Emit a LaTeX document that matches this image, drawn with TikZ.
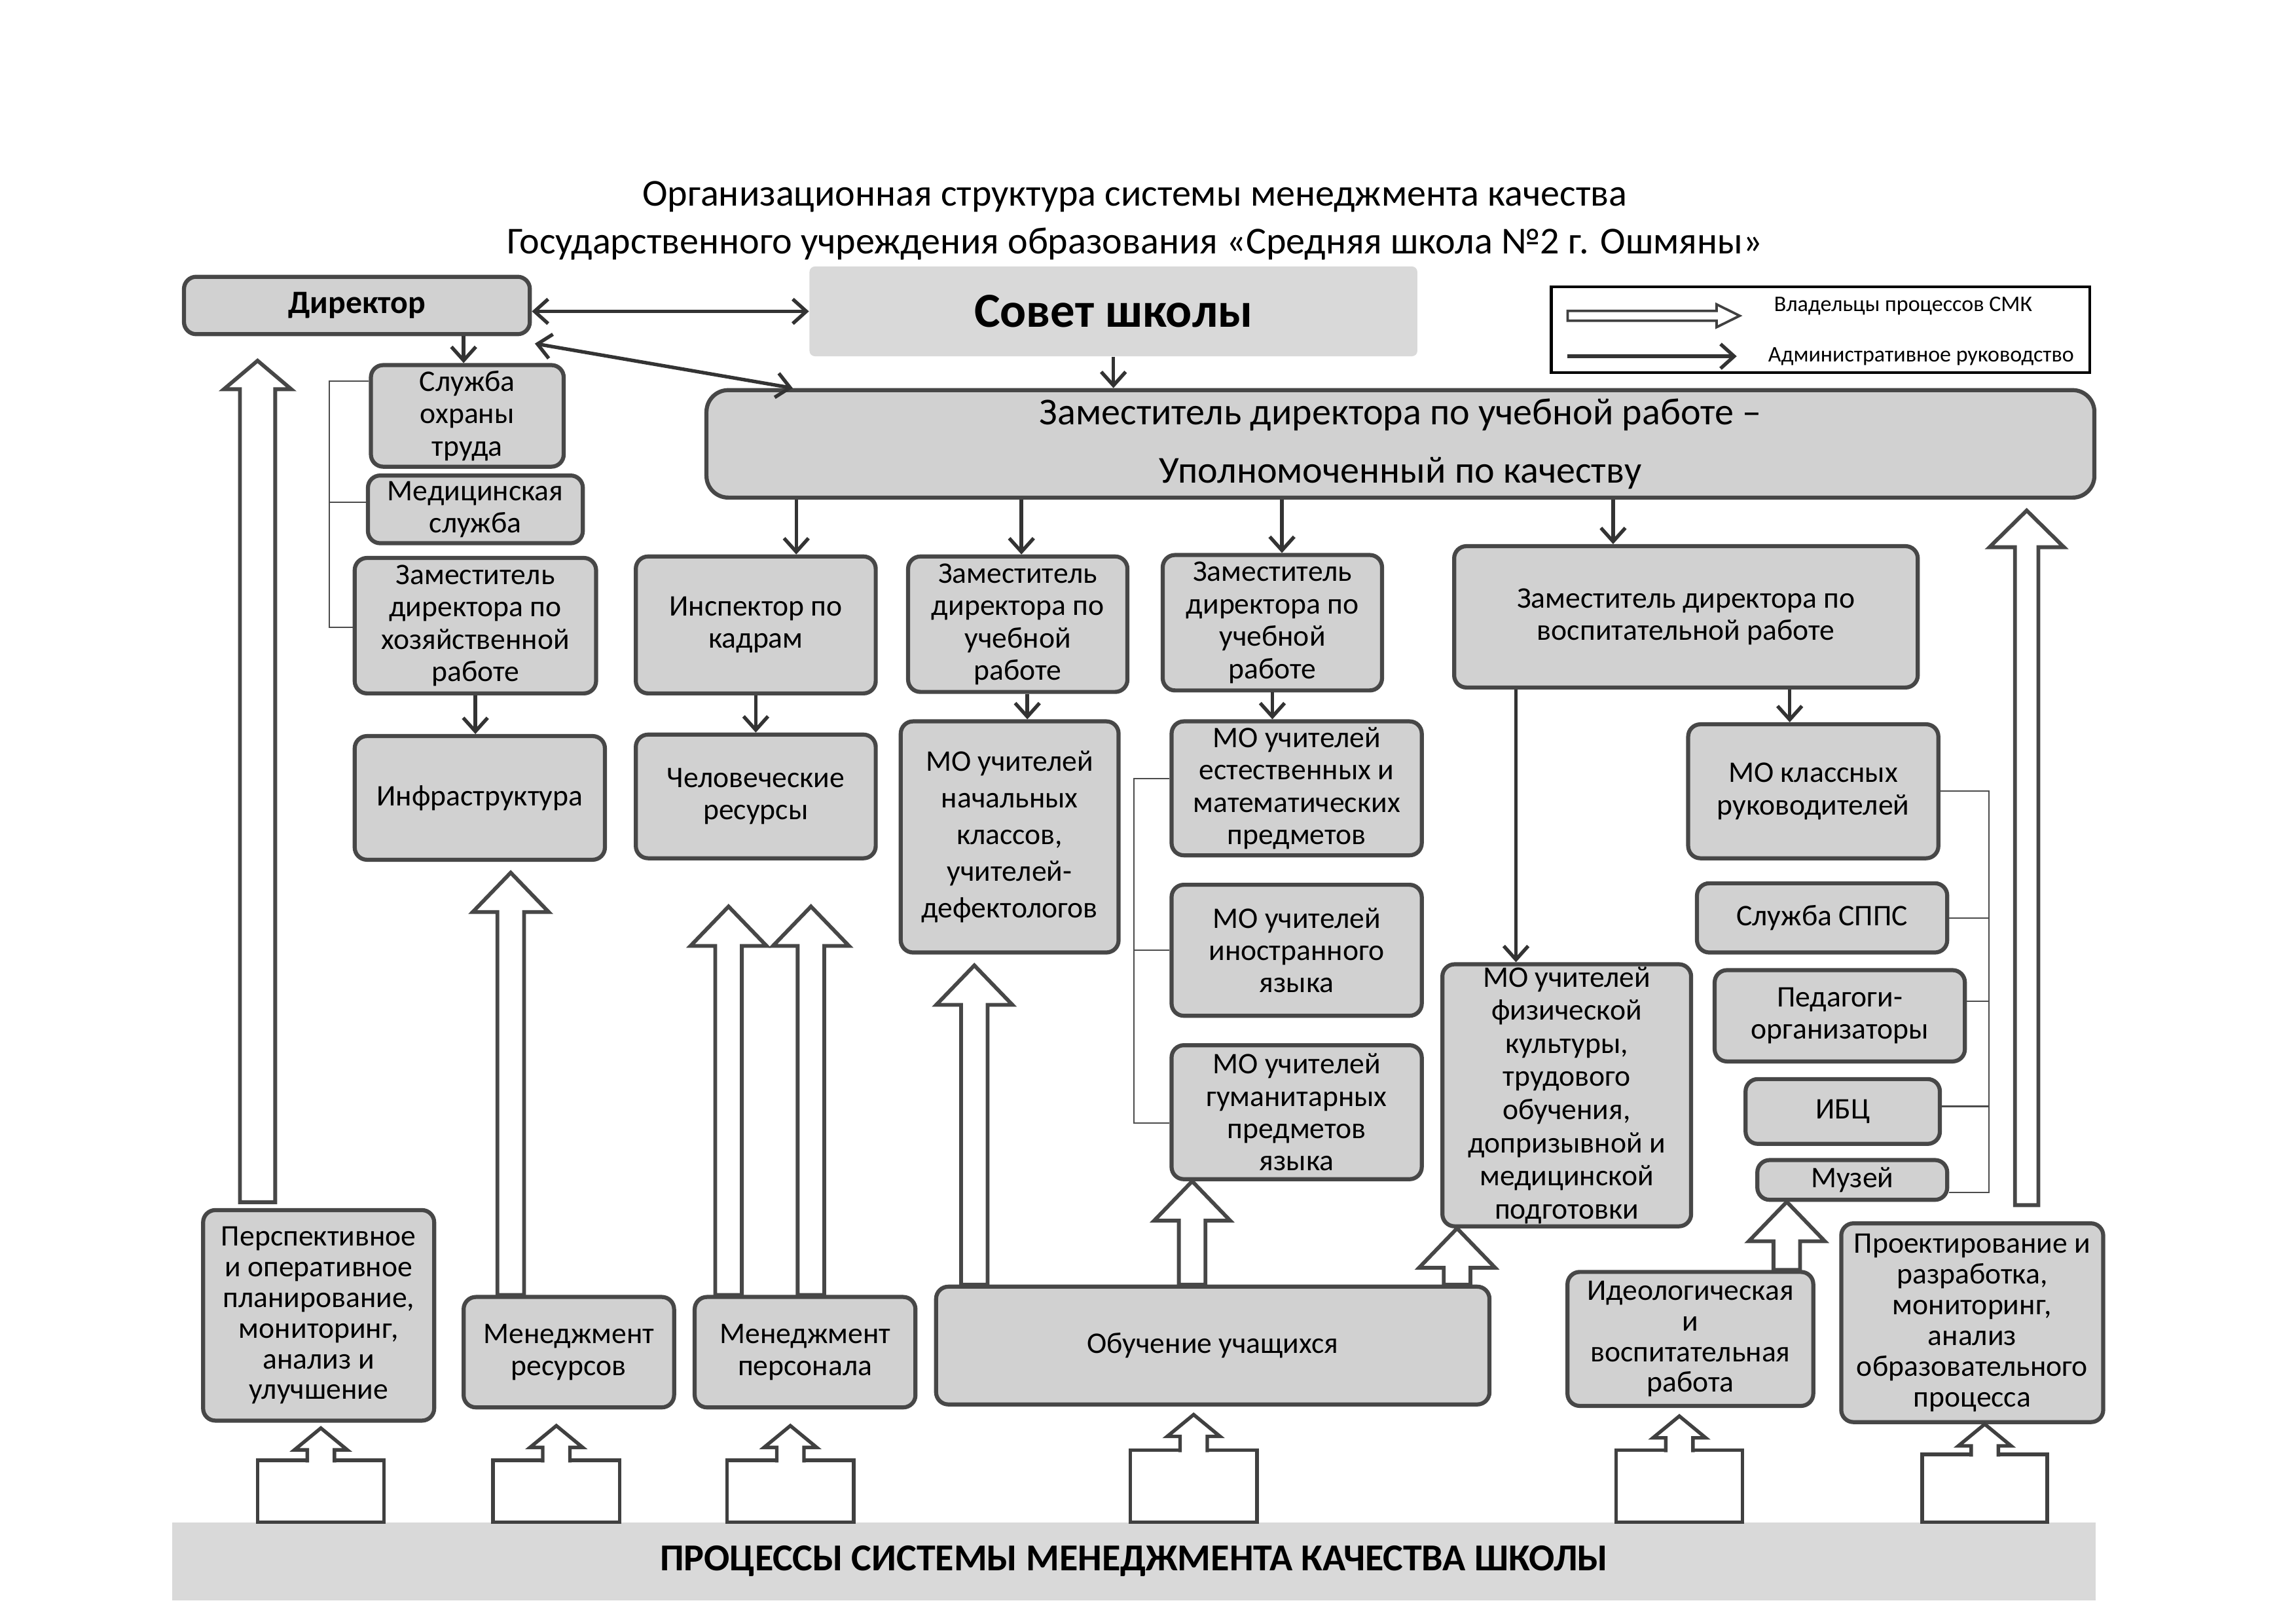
\documentclass[tikz,border=0pt]{standalone}
\usepackage{fontspec}
\setmainfont{Carlito}
\usetikzlibrary{positioning, arrows.meta, calc}

\newcommand{\arshaft}{4.9pt}
\newcommand{\arheadw}{14pt}
\newcommand{\arheadl}{14.5pt}

\begin{document}
\begin{tikzpicture}[
          x=0.19038mm, y=-0.19038mm,
          boxat/.style args = {#1/#2/#3/#4}{at={(#1/2+#3/2,#2/2+#4/2)}, minimum width={(#3-#1)*0.19038mm}, minimum height={(#4-#2)*0.19038mm}},
          box/.style = {draw=black!72, line width=1.5pt, fill=black!18, rounded corners=4.5pt, inner sep=0pt, align=center, font=\fontsize{11}{11.9}\selectfont},
          council/.style = {fill=black!15, rounded corners=2pt, inner sep=0pt, font=\bfseries\fontsize{18}{22}\selectfont},
          title/.style = {align=center, font=\fontsize{14}{17.5}\selectfont},
          legendbox/.style = {draw=black, line width=1pt, fill=white, inner sep=0pt},
          legtext/.style = {anchor=west, inner sep=0pt, font=\fontsize{8.2}{10}\selectfont},
          callbox/.style = {draw=black!75, line width=1.3pt, fill=white, inner sep=0pt},
          banner/.style = {fill=black!15, inner sep=0pt, font=\bfseries\fontsize{14}{17}\selectfont},
          bracket/.style = {draw=black!70, line width=0.5pt},
          admin/.style = {draw=black!80, line width=1.3pt, -{Straight Barb[length=5pt, width=9pt]}},
          admin2/.style = {admin, {Straight Barb[length=5pt, width=9pt]}-{Straight Barb[length=5pt, width=9pt]}},
          dims/.code args = {#1/#2/#3}{\def\arshaft{#1}\def\arheadw{#2}\def\arheadl{#3}},
          owner/.style = {draw=black!72, line width=1.4pt, fill=white,
            to path={let \p1=(\tikztostart), \p2=(\tikztotarget) in
              (\x1-\arshaft,\y1) -- (\x1-\arshaft,\y2-\arheadl) -- (\x1-\arheadw,\y2-\arheadl) -- (\x1,\y2)
              -- (\x1+\arheadw,\y2-\arheadl) -- (\x1+\arshaft,\y2-\arheadl) -- (\x1+\arshaft,\y1) -- cycle}},
          callarrow/.style = {draw=black!75, line width=1.3pt, fill=white,
            to path={let \p1=(\tikztostart), \p2=(\tikztotarget) in
              (\x1-5pt,\y1-1.4pt) -- (\x1-5pt,\y2-8pt) -- (\x1-9.7pt,\y2-8pt) -- (\x1,\y2)
              -- (\x1+9.7pt,\y2-8pt) -- (\x1+5pt,\y2-8pt) -- (\x1+5pt,\y1-1.4pt)}},
          ownerright/.style = {draw=black!75, line width=0.9pt, fill=white,
            to path={let \p1=(\tikztostart), \p2=(\tikztotarget) in
              (\x1,\y1+1.8pt) -- (\x2-8.5pt,\y1+1.8pt) -- (\x2-8.5pt,\y1+4.2pt) -- (\x2,\y1)
              -- (\x2-8.5pt,\y1-4.2pt) -- (\x2-8.5pt,\y1-1.8pt) -- (\x1,\y1-1.8pt) -- cycle}}
         ]

        \useasboundingbox (0,0) rectangle (1560,1103);

        % Заголовок
        \node[title] (title) at (771,150) {Организационная структура системы менеджмента качества\\Государственного учреждения образования «Средняя школа №2 г. Ошмяны»};

        % Руководство
        \node[box, font=\bfseries\fontsize{12}{14}\selectfont, boxat=125/188/360/227] (dir) {Директор};
        \node[council, boxat=550/181/963/242] (sovet) {Совет школы};
        \node[box, rounded corners=8pt, font=\fontsize{14}{21.6}\selectfont, boxat=480/265/1423/338] (upol) {Заместитель директора по учебной работе –\\Уполномоченный по качеству};

        % Легенда
        \node[legendbox, boxat=1054/195/1420/253] (legend) {};
        \node[legtext] (legOwner) at (1205,208) {Владельцы процессов СМК};
        \node[legtext] (legAdmin) at (1201,242) {Административное руководство};
        \draw[ownerright] ($(legOwner.west -| legend.west)+(12,6.5)$) to ($(legOwner.west)+(-23,6.5)$);
        \draw[admin] ($(legAdmin.west -| legend.west)+(12,0)$) -- ($(legAdmin.west)+(-21,0)$);

        % Левая колонка
        \node[box, boxat=252/248/383/317] (ohrana) {Служба\\охраны\\труда};
        \node[box, boxat=250/323/396/369] (med) {Медицинская\\служба};
        \node[box, boxat=241/379/405/471] (zamhoz) {Заместитель\\директора по\\хозяйственной\\работе};
        \node[box, boxat=241/500/411/584] (infra) {Инфраструктура};

        % Заместители и МО
        \node[box, boxat=432/378/595/471] (insp) {Инспектор по\\кадрам};
        \node[box, boxat=432/499/595/583] (chel) {Человеческие\\ресурсы};
        \node[box, boxat=617/378/766/470] (zamuch1) {Заместитель\\директора по\\учебной\\работе};
        \node[box, font=\fontsize{11}{13.5}\selectfont, boxat=612/490/760/647] (moNach) {МО учителей\\начальных\\классов,\\учителей-\\дефектологов};
        \node[box, boxat=790/377/939/469] (zamuch2) {Заместитель\\директора по\\учебной\\работе};
        \node[box, boxat=796/490/966/581] (moEst) {МО учителей\\естественных и\\математических\\предметов};
        \node[box, boxat=796/601/966/690] (moIn) {МО учителей\\иностранного\\языка};
        \node[box, boxat=796/710/966/801] (moGum) {МО учителей\\гуманитарных\\предметов\\языка};
        \node[box, boxat=988/371/1303/467] (zamvosp) {Заместитель директора по\\воспитательной работе};
        \node[box, font=\fontsize{11}{12.2}\selectfont, boxat=980/655/1149/833] (moFiz) {МО учителей\\физической\\культуры,\\трудового\\обучения,\\допризывной и\\медицинской\\подготовки};
        \node[box, boxat=1147/492/1317/583] (moKl) {МО классных\\руководителей};
        \node[box, boxat=1153/600/1323/647] (spps) {Служба СППС};
        \node[box, boxat=1165/659/1335/721] (pedorg) {Педагоги-\\организаторы};
        \node[box, boxat=1186/733/1318/777] (ibc) {ИБЦ};
        \node[box, boxat=1194/788/1323/815] (muzei) {Музей};

        % Процессы
        \node[box, font=\fontsize{11}{11.3}\selectfont, boxat=138/822/295/965] (persp) {Перспективное\\и оперативное\\планирование,\\мониторинг,\\анализ и\\улучшение};
        \node[box, boxat=315/881/458/956] (menRes) {Менеджмент\\ресурсов};
        \node[box, boxat=472/881/622/956] (menPers) {Менеджмент\\персонала};
        \node[box, boxat=636/874/1012/954] (obuch) {Обучение учащихся};
        \node[box, font=\fontsize{11}{11.3}\selectfont, boxat=1065/864/1232/955] (ideolog) {Идеологическая\\и\\воспитательная\\работа};
        \node[box, font=\fontsize{11}{11.3}\selectfont, boxat=1251/831/1429/966] (proekt) {Проектирование и\\разработка,\\мониторинг,\\анализ\\образовательного\\процесса};

        \node[banner, boxat=117/1034/1424/1087] (procs) {ПРОЦЕССЫ СИСТЕМЫ МЕНЕДЖМЕНТА КАЧЕСТВА ШКОЛЫ};

        \node[callbox, boxat=175/992/261/1034] (c1) {};
        \node[callbox, boxat=335/992/421/1034] (c2) {};
        \node[callbox, boxat=494/992/580/1034] (c3) {};
        \node[callbox, boxat=768/985/854/1034] (c4) {};
        \node[callbox, boxat=1098/985/1184/1034] (c5) {};
        \node[callbox, boxat=1306/988/1391/1034] (c6) {};

        % Скобки
        \draw[bracket] ($(ohrana.west)+(0,-23.5)$) -| ($(zamhoz.west)+(-16,1)$) -- ($(zamhoz.west)+(0,1)$);
        \draw[bracket] ($(med.west)+(0,-5)$) -- ++(-25,0);
        \draw[bracket] ($(moEst.west)+(0,-6.5)$) -| ($(moGum.west)+(-24,7.5)$) -- ($(moGum.west)+(0,7.5)$);
        \draw[bracket] (moIn.west) -- ++(-24,0);
        \draw[bracket] (moKl.east) -| ($(muzei.east)+(27,8.5)$) -- ($(muzei.east)+(0,8.5)$);
        \draw[bracket] (spps.east) -- ++(27,0);
        \draw[bracket] ($(pedorg.east)+(0,-10)$) -- ++(15,0);
        \draw[bracket] ($(ibc.east)+(0,-3.5)$) -- ++(32,0);

        % Административное руководство
        \draw[admin2] (dir.east |- sovet.west) -- (sovet.west);
        \draw[admin2] ($(dir.south east)+(2,5)$) -- ($(upol.north west)+(60,0)$);
        \draw[admin] (dir.south -| 315,0) -- (ohrana.north -| 315,0);
        \draw[admin] (sovet.south) -- (sovet.south |- upol.north);
        \draw[admin] (upol.south -| 541,0) -- (insp.north -| 541,0);
        \draw[admin] (upol.south -| 694,0) -- (zamuch1.north -| 694,0);
        \draw[admin] (upol.south -| 871,0) -- (zamuch2.north -| 871,0);
        \draw[admin] (upol.south -| 1096,0) -- (zamvosp.north -| 1096,0);
        \draw[admin] (zamhoz.south) -- (zamhoz.south |- infra.north);
        \draw[admin] (insp.south) -- (chel.north);
        \draw[admin] (zamuch1.south -| 698,0) -- (moNach.north -| 698,0);
        \draw[admin] (zamuch2.south) -- (zamuch2.south |- moEst.north);
        \draw[admin] (zamvosp.south -| 1030,0) -- (moFiz.north -| 1030,0);
        \draw[admin] (zamvosp.south -| 1216,0) -- (moKl.north -| 1216,0);

        % Владельцы процессов
        \draw[owner, dims=6.5pt/12.4pt/10.5pt] ($(persp.north -| 175,0)+(0,-4)$) to ([yshift=-9pt]dir.south);
        \draw[owner] (menRes.north -| 347,0) to ([yshift=-4pt]infra.south);
        \draw[owner] (menPers.north -| 495,0) to ([yshift=-17pt]chel.south);
        \draw[owner] (menPers.north -| 551,0) to ([yshift=-17pt]chel.south);
        \draw[owner] (obuch.north -| 662,0) to ([yshift=-4pt]moNach.south);
        \draw[owner] (obuch.north -| 810,0) to (moGum.south);
        \draw[owner] (obuch.north -| 990,0) to (moFiz.south);
        \draw[owner] (ideolog.north -| 1214,0) to (muzei.south);
        \draw[owner, dims=4.3pt/13.7pt/13.5pt] ($(proekt.north -| 1377,0)+(0,-11)$) to ([yshift=-4pt]upol.south);

        \draw[callarrow] (c1.north) to ([yshift=-2pt]persp.south);
        \draw[callarrow] (c2.north) to ([yshift=-6pt]menRes.south);
        \draw[callarrow] (c3.north) to ([yshift=-6pt]menPers.south);
        \draw[callarrow] (c4.north) to ([yshift=-3pt]obuch.south);
        \draw[callarrow] (c5.north) to ([yshift=-3pt]ideolog.south);
        \draw[callarrow] (c6.north) to (proekt.south);

        \end{tikzpicture}
\end{document}
